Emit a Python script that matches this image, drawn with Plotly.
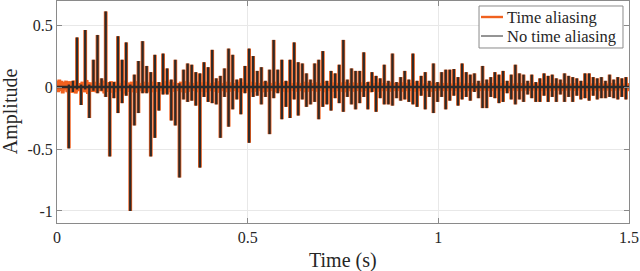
import plotly.graph_objects as go

# ---- data ----
spike_time = [
    0.0310, 0.0417, 0.0525, 0.0632, 0.0740, 0.0847, 0.0955, 0.1062, 0.1169, 0.1277,
    0.1384, 0.1492, 0.1599, 0.1707, 0.1814, 0.1921, 0.2029, 0.2136, 0.2244, 0.2351,
    0.2459, 0.2566, 0.2673, 0.2781, 0.2888, 0.2996, 0.3103, 0.3211, 0.3318, 0.3425,
    0.3533, 0.3640, 0.3748, 0.3855, 0.3963, 0.4070, 0.4177, 0.4285, 0.4392, 0.4500,
    0.4607, 0.4715, 0.4822, 0.4929, 0.5037, 0.5144, 0.5252, 0.5359, 0.5467, 0.5574,
    0.5682, 0.5789, 0.5896, 0.6004, 0.6111, 0.6219, 0.6326, 0.6434, 0.6541, 0.6648,
    0.6756, 0.6863, 0.6971, 0.7078, 0.7186, 0.7293, 0.7400, 0.7508, 0.7615, 0.7723,
    0.7830, 0.7938, 0.8045, 0.8152, 0.8260, 0.8367, 0.8475, 0.8582, 0.8690, 0.8797,
    0.8904, 0.9012, 0.9119, 0.9227, 0.9334, 0.9442, 0.9549, 0.9656, 0.9764, 0.9871,
    0.9979, 1.0086, 1.0194, 1.0301, 1.0408, 1.0516, 1.0623, 1.0731, 1.0838, 1.0946,
    1.1053, 1.1160, 1.1268, 1.1375, 1.1483, 1.1590, 1.1698, 1.1805, 1.1912, 1.2020,
    1.2127, 1.2235, 1.2342, 1.2450, 1.2557, 1.2664, 1.2772, 1.2879, 1.2987, 1.3094,
    1.3202, 1.3309, 1.3416, 1.3524, 1.3631, 1.3739, 1.3846, 1.3954, 1.4061, 1.4168,
    1.4276, 1.4383, 1.4491, 1.4598, 1.4706, 1.4813, 1.4920,
]

spike_high = [
    0.02, 0.05, 0.40, 0.02, 0.46, 0.02, 0.22, 0.42, 0.07, 0.61, 0.04, 0.04, 0.41, 0.22, 0.36, 0.02, 0.10, 0.21, 0.37, 0.17, 0.12,
    0.26, 0.04, 0.27, 0.15, 0.06, 0.22, 0.03, 0.14, 0.19, 0.18, 0.12, 0.11, 0.20, 0.16, 0.30, 0.07, 0.09, 0.15, 0.31, 0.26, 0.06, 0.07, 0.17, 0.31,
    0.25, 0.13, 0.16, 0.05, 0.14, 0.38, 0.14, 0.22, 0.05, 0.22, 0.36, 0.20, 0.19, 0.11, 0.06, 0.19, 0.22, 0.29, 0.05, 0.13, 0.11, 0.18, 0.38,
    0.06, 0.15, 0.13, 0.13, 0.28, 0.04, 0.12, 0.09, 0.07, 0.18, 0.05, 0.27, 0.04, 0.08, 0.13, 0.06, 0.27, 0.05, 0.09, 0.12, 0.05, 0.19, 0.04,
    0.12, 0.14, 0.14, 0.145, 0.08, 0.19, 0.12, 0.10, 0.11, 0.05, 0.17, 0.06, 0.08, 0.12, 0.10, 0.13, 0.05, 0.10, 0.18, 0.11, 0.10, 0.05, 0.10,
    0.04, 0.07, 0.11, 0.09, 0.10, 0.07, 0.06, 0.11, 0.09, 0.08, 0.07, 0.05, 0.11, 0.11, 0.08, 0.07, 0.08, 0.05, 0.10, 0.06, 0.08, 0.07, 0.08,
]

spike_low = [
    -0.495, -0.04, -0.02, -0.145, -0.02, -0.25, -0.03, -0.05, -0.03, -0.08, -0.56, -0.09, -0.21, -0.13, -0.07, -1.0, -0.31, -0.21, -0.05, -0.05, -0.56,
    -0.41, -0.19, -0.06, -0.06, -0.27, -0.31, -0.73, -0.10, -0.12, -0.11, -0.15, -0.65, -0.08, -0.12, -0.13, -0.14, -0.41, -0.08, -0.32, -0.18, -0.10, -0.22, -0.05, -0.45,
    -0.08, -0.07, -0.14, -0.08, -0.38, -0.09, -0.05, -0.26, -0.16, -0.25, -0.10, -0.23, -0.10, -0.16, -0.14, -0.12, -0.26, -0.16, -0.14, -0.19, -0.09, -0.13, -0.20,
    -0.08, -0.14, -0.18, -0.13, -0.08, -0.18, -0.04, -0.20, -0.09, -0.14, -0.14, -0.15, -0.09, -0.11, -0.10, -0.12, -0.14, -0.16, -0.07, -0.18, -0.08, -0.21, -0.12,
    -0.08, -0.18, -0.11, -0.07, -0.15, -0.10, -0.08, -0.11, -0.04, -0.09, -0.17, -0.17, -0.08, -0.09, -0.13, -0.12, -0.05, -0.10, -0.14, -0.10, -0.12, -0.06, -0.09,
    -0.12, -0.12, -0.07, -0.12, -0.08, -0.12, -0.06, -0.12, -0.08, -0.12, -0.07, -0.10, -0.09, -0.11, -0.07, -0.10, -0.09, -0.09, -0.08, -0.09, -0.10, -0.08, -0.10,
]

# small aliasing residual of the orange curve (before the first spike, and between spikes)
alias_pre_time = [0.000, 0.003, 0.006, 0.009, 0.012, 0.015, 0.018, 0.021, 0.024, 0.027]
alias_pre_amp = [0.05, -0.04, 0.06, -0.03, 0.05, -0.05, 0.04, -0.02, 0.05, -0.04]
alias_resid = [
    0.045, 0.05, 0.03, 0.04, 0.055, 0.035, 0.04, 0.03, 0.05, 0.035, 0.045, 0.04, 0.03, 0.05, 0.035, 0.04, 0.045, 0.03, 0.04, 0.035,
    0.04, 0.035, 0.03, 0.045, 0.04, 0.035, 0.03, 0.04, 0.045, 0.035, 0.03, 0.04, 0.035, 0.04, 0.03, 0.035, 0.045, 0.03, 0.04, 0.035,
    0.03, 0.04, 0.035, 0.03, 0.04, 0.035, 0.03, 0.04, 0.035, 0.03, 0.04, 0.03, 0.035, 0.04, 0.03, 0.035, 0.03, 0.04, 0.035, 0.03,
    0.035, 0.03, 0.04, 0.03, 0.035, 0.03, 0.035, 0.04, 0.03, 0.035, 0.03, 0.035, 0.03, 0.04, 0.03, 0.035, 0.03, 0.03, 0.035, 0.03,
    0.03, 0.035, 0.03, 0.03, 0.035, 0.03, 0.025, 0.03, 0.035, 0.03, 0.025, 0.03, 0.03, 0.025, 0.03, 0.035, 0.025, 0.03, 0.03, 0.025,
    0.03, 0.025, 0.03, 0.03, 0.025, 0.03, 0.025, 0.03, 0.025, 0.03, 0.03, 0.025, 0.03, 0.025, 0.025, 0.03, 0.025, 0.03, 0.025, 0.025,
    0.03, 0.025, 0.025, 0.03, 0.025, 0.025, 0.03, 0.025, 0.025, 0.03, 0.025, 0.025, 0.03, 0.025, 0.025, 0.025, 0.03,
]

x_ticks = [0, 0.5, 1, 1.5]
x_tick_labels = ["0", "0.5", "1", "1.5"]
y_ticks = [-1, -0.5, 0, 0.5]
y_tick_labels = ["-1", "-0.5", "0", "0.5"]
series_names = ["Time aliasing", "No time aliasing"]
T_END = 1.5


def spikes_path():
    """Each spike as its own vertical segment, separated by gaps."""
    xs, ys = [], []
    for t, h, l in zip(spike_time, spike_high, spike_low):
        xs += [t, t, None]
        ys += [l, h, None]
    return xs, ys


def baseline_path(with_resid):
    xs, ys = [], []
    if with_resid:
        xs += list(alias_pre_time)
        ys += list(alias_pre_amp)
        n = len(spike_time)
        for i in range(n):
            t = spike_time[i]
            nxt = spike_time[i + 1] if i + 1 < n else T_END
            r = alias_resid[i] if i < len(alias_resid) else 0.025
            xs += [t, t + (nxt - t) / 3, t + 2 * (nxt - t) / 3]
            ys += [0.0, r, -r]
    else:
        xs.append(0.0)
        ys.append(0.0)
    xs += [T_END, None]
    ys += [0.0, None]
    return xs, ys


FONT = "Liberation Serif"
ORANGE = "#F0611F"
DARK = "#2e2a28"
TXT = "#262626"
FRAME = "#8a8a8a"

fig = go.Figure()
bx, by = baseline_path(True)
sx, sy = spikes_path()
fig.add_trace(go.Scatter(x=bx + sx, y=by + sy, mode="lines", name=series_names[0],
                         showlegend=False, connectgaps=False,
                         line=dict(color=ORANGE, width=3.8, simplify=False)))
bx, by = baseline_path(False)
fig.add_trace(go.Scatter(x=bx + sx, y=by + sy, mode="lines", name=series_names[1],
                         showlegend=False, connectgaps=False,
                         line=dict(color=DARK, width=2.3, simplify=False)))

axis_common = dict(
    showline=True, linecolor=FRAME, linewidth=1, mirror="ticks",
    ticks="inside", ticklen=5, tickcolor=FRAME, tickwidth=1,
    showgrid=True, gridcolor="#e8e8e8", gridwidth=1, zeroline=False,
    tickfont=dict(family=FONT, size=16, color=TXT), automargin=False,
)

# legend drawn in paper coordinates (box at top right)
leg_x0, leg_x1, leg_y0, leg_y1 = 0.7378, 0.9895, 0.7883, 0.9775
leg_rows = [0.9279, 0.8423]
leg_colors = [ORANGE, "#2a2a2a"]
leg_widths = [2.4, 1.0]
shapes = [dict(type="rect", xref="paper", yref="paper", x0=leg_x0, x1=leg_x1,
               y0=leg_y0, y1=leg_y1, line=dict(color=FRAME, width=1),
               fillcolor="white", layer="above")]
annotations = []
for name, yr, col, w in zip(series_names, leg_rows, leg_colors, leg_widths):
    shapes.append(dict(type="line", xref="paper", yref="paper", x0=0.7413, x1=0.7797,
                       y0=yr, y1=yr, line=dict(color=col, width=w), layer="above"))
    annotations.append(dict(text=name, xref="paper", yref="paper", x=0.784, y=yr,
                            xanchor="left", yanchor="middle", showarrow=False,
                            font=dict(family=FONT, size=16.5, color=TXT)))

annotations += [
    dict(text="Time (s)", xref="paper", yref="paper", x=0.5, y=-0.171,
         xanchor="center", yanchor="middle", showarrow=False,
         font=dict(family=FONT, size=20, color=TXT)),
    dict(text="Amplitude", xref="paper", yref="paper", x=-0.082, y=0.504,
         xanchor="center", yanchor="middle", showarrow=False, textangle=-90,
         font=dict(family=FONT, size=20, color=TXT)),
]

fig.update_layout(
    width=640, height=271,
    margin=dict(l=57, r=11, t=1, b=48),
    paper_bgcolor="white", plot_bgcolor="white",
    font=dict(family=FONT, size=16, color=TXT),
    showlegend=False,
    xaxis=dict(range=[0, T_END], tickvals=x_ticks, ticktext=x_tick_labels, **axis_common),
    yaxis=dict(range=[-1.097, 0.694], tickvals=y_ticks, ticktext=y_tick_labels, **axis_common),
    shapes=shapes,
    annotations=annotations,
)

fig.write_html(
    "out.html",
    config={"displayModeBar": False, "staticPlot": True},
    post_script="document.body.style.margin='0';document.body.style.padding='0';"
                "document.documentElement.style.overflow='hidden';",
)
